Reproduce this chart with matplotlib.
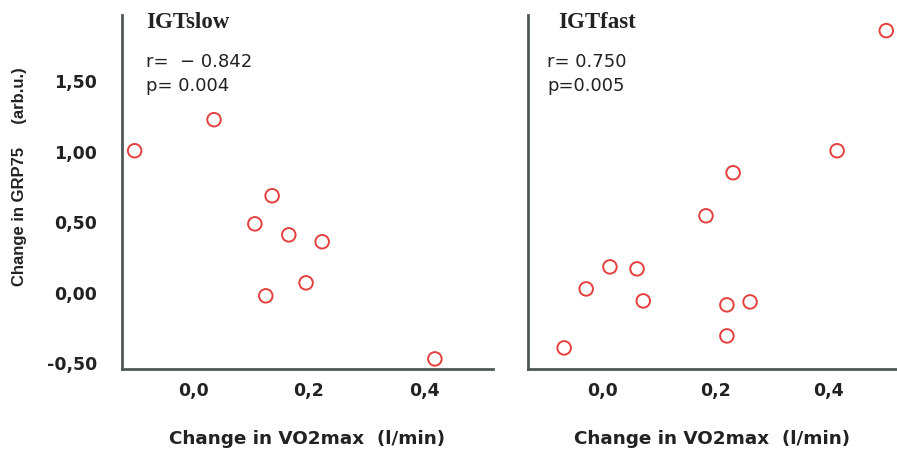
import numpy as np
import matplotlib.pyplot as plt

# Change in VO2max (l/min) vs change in GRP75 (arb.u.)
slow_x = [-0.103, 0.035, 0.136, 0.106, 0.165, 0.223, 0.125, 0.195, 0.419]
slow_y = [1.007, 1.227, 0.688, 0.489, 0.411, 0.362, -0.021, 0.071, -0.468]
fast_x = [0.503, 0.416, 0.232, 0.184, 0.014, 0.062, -0.028, 0.073, 0.221, 0.262, 0.221, -0.067]
fast_y = [1.858, 1.007, 0.851, 0.546, 0.184, 0.170, 0.028, -0.057, -0.085, -0.064, -0.305, -0.390]

panels = ["IGTslow", "IGTfast"]
stats = [["r=  \u2212 0.842", "p= 0.004"], ["r= 0.750", "p=0.005"]]
yticks = [-0.5, 0.0, 0.5, 1.0, 1.5]
ytick_labels = ["-0,50", "0,00", "0,50", "1,00", "1,50"]
xticks = [0.0, 0.2, 0.4]
xtick_labels = ["0,0", "0,2", "0,4"]

plt.rcParams['font.family'] = 'DejaVu Sans'

fig = plt.figure(figsize=(8.97, 4.49), dpi=100)
ax1 = fig.add_axes([0.136, 0.178, 0.4136, 0.789])
ax2 = fig.add_axes([0.5886, 0.178, 0.4114, 0.789])

data = [(slow_x, slow_y), (fast_x, fast_y)]
xlims = [(-0.125, 0.52), (-0.131, 0.522)]
title_x = [0.065, 0.082]
stat_x = [0.065, 0.052]

for i, ax in enumerate([ax1, ax2]):
    xs, ys = data[i]
    ax.scatter(xs, ys, s=95, facecolors='none', edgecolors='#e4403e', linewidths=1.4)
    ax.set_xlim(*xlims[i])
    ax.set_ylim(-0.54, 1.97)
    for s in ['top', 'right']:
        ax.spines[s].set_visible(False)
    for s in ['left', 'bottom']:
        ax.spines[s].set_color('#505757')
        ax.spines[s].set_linewidth(2)
    ax.set_xticks(xticks)
    ax.set_xticklabels(xtick_labels, fontsize=12.5, fontweight='bold', color='#222222')
    ax.tick_params(axis='x', length=0, pad=9)
    ax.set_yticks(yticks)
    if i == 0:
        ax.set_yticklabels(ytick_labels, fontsize=12.5, fontweight='bold', color='#222222')
        ax.tick_params(axis='y', length=0, pad=18)
    else:
        ax.tick_params(axis='y', length=0, labelleft=False)
    ax.set_xlabel("Change in VO2max  (l/min)", fontsize=13.2, fontweight='bold',
                  color='#222222', labelpad=22)
    ax.text(title_x[i], 0.978, panels[i], transform=ax.transAxes, fontsize=16.5,
            fontweight='bold', family='Liberation Serif', va='center', color='#222222')
    ax.text(stat_x[i], 0.866, stats[i][0], transform=ax.transAxes, fontsize=13,
            va='center', color='#222222')
    ax.text(stat_x[i], 0.80, stats[i][1], transform=ax.transAxes, fontsize=13,
            va='center', color='#222222')

fig.text(0.022, 0.607, "Change in GRP75     (arb.u.)", rotation=90, fontsize=12,
         fontweight='bold', family='Liberation Sans', va='center', ha='center',
         color='#222222')

fig.savefig("out.png", dpi=100)
